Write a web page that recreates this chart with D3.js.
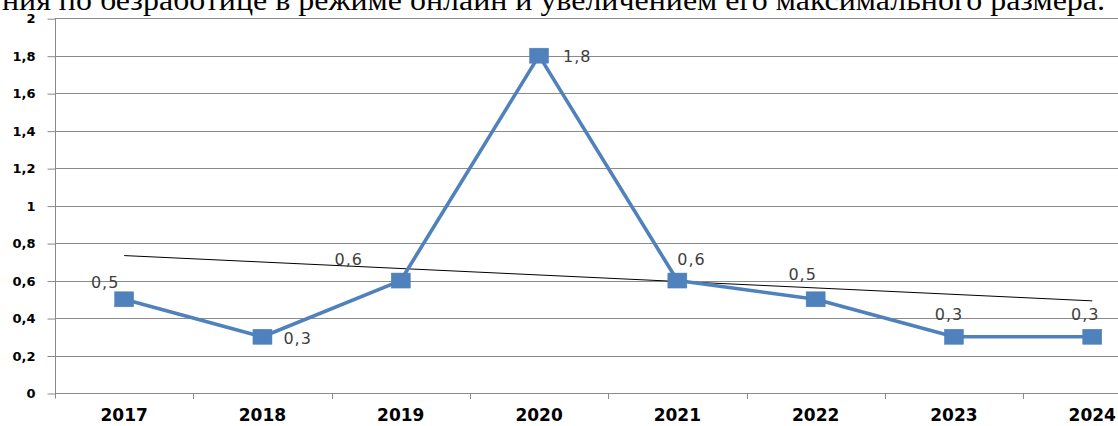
<!DOCTYPE html>
<html>
<head>
<meta charset="utf-8">
<script src="https://cdn.jsdelivr.net/npm/d3@7"></script>
<style>
  html, body { margin: 0; padding: 0; background: #fff; }
  svg { display: block; }
</style>
</head>
<body>
<div id="chart"></div>
<script>
// ---- data ----
const years = ["2017", "2018", "2019", "2020", "2021", "2022", "2023", "2024"];
const values = [0.5, 0.3, 0.6, 1.8, 0.6, 0.5, 0.3, 0.3];
const yTickValues = [0, 0.2, 0.4, 0.6, 0.8, 1, 1.2, 1.4, 1.6, 1.8, 2];
const headerText = "ния по безработице в режиме онлайн и увеличением его максимального размера.";
// label placement relative to marker centre (styling)
const labelOffsets = [[-19, -11], [21, 7], [-52, -16], [24, 6], [0, -16], [-13, -19], [-5, -17], [-7, -17]];
const labelAnchors = ["middle", "start", "middle", "start", "start", "middle", "middle", "middle"];

const W = 1118, H = 426;
const svg = d3.select("#chart").append("svg").attr("width", W).attr("height", H);

const fmt = d3.formatLocale({decimal: ",", thousands: " ", grouping: [3], currency: ["", ""]}).format(".1~f");

const x = d3.scaleBand().domain(years).range([55, 55 + 8 * 138.3]).padding(0);
const y = d3.scaleLinear().domain([0, 2]).range([393, 18.2]);
const cx = d => x(d) + x.bandwidth() / 2;

// header text (clipped at top)
svg.append("text")
  .attr("x", 2).attr("y", 10)
  .attr("font-family", "'Liberation Serif', 'Times New Roman', serif")
  .attr("font-size", 29)
  .attr("textLength", 1103)
  .attr("lengthAdjust", "spacingAndGlyphs")
  .attr("fill", "#000")
  .text(headerText);

// gridlines
svg.append("g").selectAll("line").data(yTickValues).join("line")
  .attr("x1", 55).attr("x2", W)
  .attr("y1", d => Math.round(y(d)) + 0.5).attr("y2", d => Math.round(y(d)) + 0.5)
  .attr("stroke", "#8a8a8a").attr("stroke-width", 1);

// y axis
const yAxis = svg.append("g").attr("transform", "translate(55.5,0.5)")
  .call(d3.axisLeft(y).tickValues(yTickValues).tickFormat(fmt).tickSize(8).tickSizeOuter(0).tickPadding(12));
yAxis.select(".domain").attr("stroke", "#8a8a8a").attr("d", `M0,${y(2)}V398`);
yAxis.selectAll(".tick line").attr("stroke", "#8a8a8a");
yAxis.selectAll(".tick text")
  .attr("font-family", "'DejaVu Sans', sans-serif")
  .attr("font-weight", "bold").attr("font-size", 13).attr("fill", "#000");

// x axis
const xAxis = svg.append("g").attr("transform", `translate(0,${y(0)})`)
  .call(d3.axisBottom(x).tickSize(0).tickPadding(16));
xAxis.select(".domain").remove();
xAxis.selectAll(".tick text")
  .attr("font-family", "'DejaVu Sans', sans-serif")
  .attr("font-weight", "bold").attr("font-size", 17).attr("fill", "#000");
// category boundary ticks
svg.append("g").selectAll("line").data(years.slice(1)).join("line")
  .attr("x1", d => Math.round(x(d)) + 0.5).attr("x2", d => Math.round(x(d)) + 0.5)
  .attr("y1", Math.round(y(0))).attr("y2", Math.round(y(0)) + 6)
  .attr("stroke", "#8a8a8a");

// trendline (linear regression of the series)
const n = values.length;
const mx = d3.mean(d3.range(n)), my = d3.mean(values);
const slope = d3.sum(d3.range(n), i => (i - mx) * (values[i] - my)) / d3.sum(d3.range(n), i => (i - mx) ** 2);
const icpt = my - slope * mx;
svg.append("line")
  .attr("x1", cx(years[0])).attr("y1", y(icpt))
  .attr("x2", cx(years[n - 1])).attr("y2", y(icpt + slope * (n - 1)))
  .attr("stroke", "#000").attr("stroke-width", 1);

// series line
svg.append("path")
  .datum(values)
  .attr("fill", "none")
  .attr("stroke", "#4F81BD")
  .attr("stroke-width", 3.6)
  .attr("stroke-linejoin", "round")
  .attr("d", d3.line().x((d, i) => cx(years[i])).y(d => y(d)));

// markers
svg.append("g").selectAll("rect").data(values).join("rect")
  .attr("x", (d, i) => cx(years[i]) - 9.5)
  .attr("y", d => y(d) - 7.5)
  .attr("width", 19).attr("height", 15)
  .attr("fill", "#4F81BD")
  .attr("stroke", "#4A7EBB").attr("stroke-width", 0.5);

// data labels
svg.append("g").selectAll("text").data(values).join("text")
  .attr("x", (d, i) => cx(years[i]) + labelOffsets[i][0])
  .attr("y", (d, i) => y(d) + labelOffsets[i][1])
  .attr("text-anchor", (d, i) => labelAnchors[i])
  .attr("font-family", "'DejaVu Sans', sans-serif")
  .attr("font-size", 16)
  .attr("letter-spacing", 1)
  .attr("fill", "#404040")
  .text(d => fmt(d));
</script>
</body>
</html>
